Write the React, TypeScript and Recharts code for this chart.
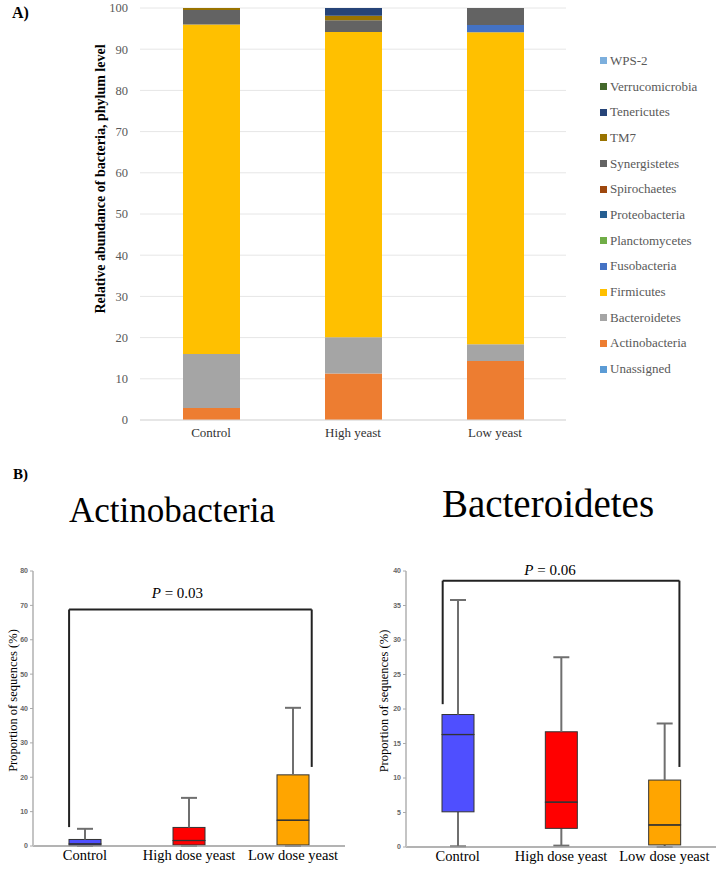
import React from 'react';
import { BarChart, Bar, XAxis, YAxis, CartesianGrid, Legend, ComposedChart, ReferenceLine } from 'recharts';

// ---------- Panel A data ----------
const groups = ['Control', 'High yeast', 'Low yeast'];
const phyla = ['Unassigned', 'Actinobacteria', 'Bacteroidetes', 'Firmicutes', 'Fusobacteria', 'Planctomycetes', 'Proteobacteria', 'Spirochaetes', 'Synergistetes', 'TM7', 'Tenericutes', 'Verrucomicrobia', 'WPS-2'];
const phylumColors = ['#5b9bd5', '#ed7d31', '#a5a5a5', '#ffc000', '#4472c4', '#70ad47', '#255e91', '#9e480e', '#636363', '#997300', '#264478', '#43682b', '#7cafdd'];
const unassigned = [0, 0, 0];
const actinobacteria = [2.9, 11.3, 14.3];
const bacteroidetes = [13.1, 8.8, 4.1];
const firmicutes = [80.0, 74.1, 75.7];
const fusobacteria = [0, 0, 1.8];
const planctomycetes = [0, 0, 0];
const proteobacteria = [0, 0, 0];
const spirochaetes = [0, 0, 0];
const synergistetes = [3.5, 2.8, 4.1];
const tm7 = [0.5, 1.1, 0];
const tenericutes = [0, 1.9, 0];
const verrucomicrobia = [0, 0, 0];
const wps2 = [0, 0, 0];
const abundanceTicks = [0, 10, 20, 30, 40, 50, 60, 70, 80, 90, 100];

// ---------- Panel B data ----------
const boxGroups = ['Control', 'High dose yeast', 'Low dose yeast'];
const boxPositions = [0.5, 1.5, 2.5];
const boxColors = ['#4f4fff', '#ff0000', '#ffa500'];
const actMin = [0, 0, 0];
const actQ1 = [0.1, 0.3, 0.3];
const actMed = [0.6, 1.6, 7.5];
const actQ3 = [1.9, 5.4, 20.7];
const actMax = [5.0, 14.0, 40.2];
const actTicks = [0, 10, 20, 30, 40, 50, 60, 70, 80];
const bacMin = [0.1, 0.2, 0];
const bacQ1 = [5.1, 2.7, 0.3];
const bacMed = [16.3, 6.5, 3.2];
const bacQ3 = [19.2, 16.7, 9.7];
const bacMax = [35.8, 27.5, 17.9];
const bacTicks = [0, 5, 10, 15, 20, 25, 30, 35, 40];
// significance brackets: [leftX, leftFootY, topY, rightX, rightFootY]
const actBracket = [0.347, 5.5, 68.8, 2.68, 23.0];
const bacBracket = [0.355, 20.7, 38.6, 2.646, 11.6];

const seriesValues: Record<string, number[]> = {
  'Unassigned': unassigned,
  'Actinobacteria': actinobacteria,
  'Bacteroidetes': bacteroidetes,
  'Firmicutes': firmicutes,
  'Fusobacteria': fusobacteria,
  'Planctomycetes': planctomycetes,
  'Proteobacteria': proteobacteria,
  'Spirochaetes': spirochaetes,
  'Synergistetes': synergistetes,
  'TM7': tm7,
  'Tenericutes': tenericutes,
  'Verrucomicrobia': verrucomicrobia,
  'WPS-2': wps2,
};

const stackedData = groups.map((g, i) => {
  const row: any = { name: g };
  phyla.forEach((p) => { row[p] = seriesValues[p][i]; });
  return row;
});

const buildBox = (mn: number[], q1: number[], md: number[], q3: number[], mx: number[]) =>
  boxGroups.map((g, i) => ({
    name: g,
    x: boxPositions[i],
    color: boxColors[i],
    base: mn[i],
    lw: q1[i] - mn[i],
    bl: md[i] - q1[i],
    bu: q3[i] - md[i],
    uw: mx[i] - q3[i],
  }));

const actData = buildBox(actMin, actQ1, actMed, actQ3, actMax);
const bacData = buildBox(bacMin, bacQ1, bacMed, bacQ3, bacMax);

const SERIF = '"Liberation Serif", "Times New Roman", serif';
const SANS = '"Liberation Sans", Arial, sans-serif';
const WHISKER = '#6f6f6f';
const CAP = 16;

const Empty = () => <g />;

const LowerWhisker = (props: any) => {
  const { x, y, width, height } = props;
  if (x == null || y == null) return <g />;
  const cx = x + width / 2;
  const bottom = y + height;
  return (
    <g>
      <line x1={cx} x2={cx} y1={y} y2={bottom} stroke={WHISKER} strokeWidth={2} />
      <line x1={cx - CAP / 2} x2={cx + CAP / 2} y1={bottom} y2={bottom} stroke={WHISKER} strokeWidth={2} />
    </g>
  );
};

const UpperWhisker = (props: any) => {
  const { x, y, width, height } = props;
  if (x == null || y == null) return <g />;
  const cx = x + width / 2;
  return (
    <g>
      <line x1={cx} x2={cx} y1={y} y2={y + height} stroke={WHISKER} strokeWidth={2} />
      <line x1={cx - CAP / 2} x2={cx + CAP / 2} y1={y} y2={y} stroke={WHISKER} strokeWidth={2} />
    </g>
  );
};

const BoxLower = (props: any) => {
  const { x, y, width, height, payload } = props;
  if (x == null || y == null) return <g />;
  return <rect x={x} y={y} width={width} height={Math.max(height, 0)} fill={payload?.color} stroke="#333" strokeWidth={1} />;
};

const BoxUpper = (props: any) => {
  const { x, y, width, height, payload } = props;
  if (x == null || y == null) return <g />;
  return (
    <g>
      <rect x={x} y={y} width={width} height={Math.max(height, 0)} fill={payload?.color} stroke="#333" strokeWidth={1} />
      <line x1={x} x2={x + width} y1={y + height} y2={y + height} stroke="#333" strokeWidth={1.3} />
    </g>
  );
};

const renderLegend = () => (
  <div style={{ fontFamily: SERIF, fontSize: 13, color: '#595959' }}>
    {phyla
      .map((p, i) => ({ p, c: phylumColors[i] }))
      .reverse()
      .map(({ p, c }) => (
        <div key={p} style={{ height: 25.7, display: 'flex', alignItems: 'center', whiteSpace: 'nowrap' }}>
          <span style={{ display: 'inline-block', width: 7, height: 7, background: c, marginRight: 3 }} />
          <span>{p}</span>
        </div>
      ))}
  </div>
);

const rotatedLabel = (text: string, dx: number, dy: number, size: number, bold: boolean) => (props: any) => {
  const vb = props.viewBox || {};
  const x = (vb.x ?? 0) + dx;
  const y = (vb.y ?? 0) + (vb.height ?? 0) / 2 + dy;
  return (
    <text
      x={x}
      y={y}
      transform={`rotate(-90, ${x}, ${y})`}
      textAnchor="middle"
      dominantBaseline="central"
      fontFamily={SERIF}
      fontSize={size}
      fontWeight={bold ? 'bold' : 'normal'}
      fill="#000"
    >
      {text}
    </text>
  );
};

const pLabel = (value: string, dx: number, dy: number) => (props: any) => {
  const vb = props.viewBox || {};
  let cx = 0;
  let cy = 0;
  if (vb.x !== undefined) {
    cx = vb.x + (vb.width || 0) / 2;
    cy = vb.y;
  } else if (vb.x1 !== undefined) {
    cx = (vb.x1 + vb.x2) / 2;
    cy = Math.min(vb.y1, vb.y2);
  }
  return (
    <text x={cx + dx} y={cy + dy} textAnchor="middle" fontFamily={SERIF} fontSize={15} fill="#000">
      <tspan fontStyle="italic">P</tspan> = {value}
    </text>
  );
};

type BoxProps = {
  data: any[];
  ticks: number[];
  domainMax: number;
  bracket: number[];
  pValue: string;
  pdx: number;
  pdy: number;
  margin: any;
  yWidth: number;
};

const BoxChart = ({ data, ticks, domainMax, bracket, pValue, pdx, pdy, margin, yWidth }: BoxProps) => {
  const [lx, ly, ty, rx, ry] = bracket;
  return (
    <ComposedChart width={363} height={329} data={data} margin={margin}>
      <XAxis
        type="number"
        dataKey="x"
        domain={[0, 3]}
        ticks={boxPositions}
        interval={0}
        tickFormatter={(v: number) => boxGroups[Math.floor(v)]}
        tickLine={false}
        tickSize={0}
        tickMargin={4}
        height={18}
        axisLine={{ stroke: '#9a9a9a', strokeWidth: 1.5 }}
        tick={{ fontFamily: SERIF, fontSize: 14.5, fill: '#000' }}
      />
      <YAxis
        type="number"
        domain={[0, domainMax]}
        ticks={ticks}
        interval={0}
        width={yWidth}
        tickSize={3}
        tickMargin={2}
        tickLine={{ stroke: '#aaa' }}
        axisLine={{ stroke: '#c4c4c4', strokeWidth: 2 }}
        tick={{ fontFamily: SANS, fontSize: 7, fontWeight: 'bold', fill: '#666' }}
        label={{ content: rotatedLabel('Proportion of sequences (%)', 6, -8, 12.5, false) }}
      />
      <Bar dataKey="base" stackId="b" barSize={32} shape={<Empty />} isAnimationActive={false} />
      <Bar dataKey="lw" stackId="b" barSize={32} shape={<LowerWhisker />} isAnimationActive={false} />
      <Bar dataKey="bl" stackId="b" barSize={32} shape={<BoxLower />} isAnimationActive={false} />
      <Bar dataKey="bu" stackId="b" barSize={32} shape={<BoxUpper />} isAnimationActive={false} />
      <Bar dataKey="uw" stackId="b" barSize={32} shape={<UpperWhisker />} isAnimationActive={false} />
      <ReferenceLine segment={[{ x: lx, y: ly }, { x: lx, y: ty }]} stroke="#222" strokeWidth={2} />
      <ReferenceLine
        segment={[{ x: lx, y: ty }, { x: rx, y: ty }]}
        stroke="#222"
        strokeWidth={2}
        label={{ content: pLabel(pValue, pdx, pdy) }}
      />
      <ReferenceLine segment={[{ x: rx, y: ty }, { x: rx, y: ry }]} stroke="#222" strokeWidth={2} />
    </ComposedChart>
  );
};

export default function App() {
  return (
    <div style={{ position: 'absolute', left: 0, top: 0, width: 723, height: 869, background: '#fff', overflow: 'hidden' }}>
      <div style={{ position: 'absolute', left: 12, top: 4, fontFamily: SERIF, fontWeight: 'bold', fontSize: 16 }}>A)</div>
      <div style={{ position: 'absolute', left: 0, top: 0 }}>
        <BarChart width={723} height={460} data={stackedData} margin={{ top: 8, right: 157, left: 100, bottom: 10 }}>
          <CartesianGrid vertical={false} stroke="#e6e6e6" />
          <XAxis
            dataKey="name"
            tickLine={false}
            axisLine={{ stroke: '#d9d9d9' }}
            height={30}
            tick={{ fontFamily: SERIF, fontSize: 13, fill: '#333' }}
          />
          <YAxis
            type="number"
            domain={[0, 100]}
            ticks={abundanceTicks}
            interval={0}
            width={40}
            axisLine={false}
            tickLine={false}
            tickSize={0}
            tickMargin={12}
            tick={{ fontFamily: SERIF, fontSize: 12.5, fill: '#595959' }}
            label={{ content: rotatedLabel('Relative abundance of bacteria, phylum level', 0, -35, 14, true) }}
          />
          <Legend
            content={renderLegend}
            layout="vertical"
            align="center"
            verticalAlign="middle"
            wrapperStyle={{ left: 600, top: 48, width: 120 }}
          />
          {phyla.map((p, i) => (
            <Bar key={p} dataKey={p} stackId="a" fill={phylumColors[i]} barSize={57} isAnimationActive={false} legendType="square" />
          ))}
        </BarChart>
      </div>

      <div style={{ position: 'absolute', left: 13, top: 466, fontFamily: SERIF, fontWeight: 'bold', fontSize: 15 }}>B)</div>
      <div style={{ position: 'absolute', left: 52, width: 240, top: 493, textAlign: 'center', fontFamily: SERIF, fontSize: 35, lineHeight: '35px', whiteSpace: 'nowrap' }}>Actinobacteria</div>
      <div style={{ position: 'absolute', left: 428, width: 240, top: 484, textAlign: 'center', fontFamily: SERIF, fontSize: 39, lineHeight: '39px', whiteSpace: 'nowrap' }}>Bacteroidetes</div>

      <div style={{ position: 'absolute', left: 0, top: 540 }}>
        <BoxChart
          data={actData}
          ticks={actTicks}
          domainMax={80}
          bracket={actBracket}
          pValue="0.03"
          pdx={-13}
          pdy={-12}
          margin={{ top: 31, right: 18, left: 7, bottom: 5 }}
          yWidth={26}
        />
      </div>
      <div style={{ position: 'absolute', left: 360, top: 540 }}>
        <BoxChart
          data={bacData}
          ticks={bacTicks}
          domainMax={40}
          bracket={bacBracket}
          pValue="0.06"
          pdx={-11}
          pdy={-6}
          margin={{ top: 31, right: 7, left: 18, bottom: 4 }}
          yWidth={28}
        />
      </div>
    </div>
  );
}
